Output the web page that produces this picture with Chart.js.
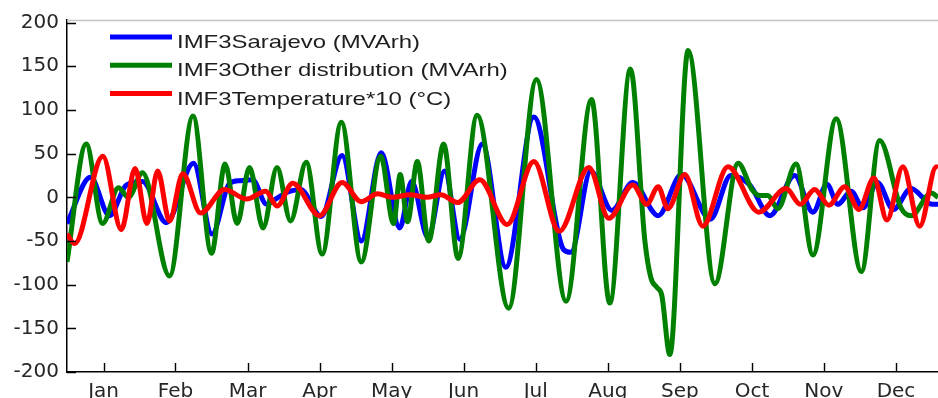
<!DOCTYPE html>
<html>
<head>
<meta charset="utf-8">
<script src="https://cdn.jsdelivr.net/npm/chart.js@4/dist/chart.umd.min.js"></script>
<style>
html,body{margin:0;padding:0;background:#fff;overflow:hidden}
#wrap{width:938px;height:398px;position:relative}
</style>
</head>
<body>
<div id="wrap"><canvas id="c"></canvas></div>
<script>
// ---- data ----
const monthLabels = ['Jan','Feb','Mar','Apr','May','Jun','Jul','Aug','Sep','Oct','Nov','Dec'];
const monthTicks = [15.4, 45.7, 76.1, 106.4, 136.8, 167.1, 197.5, 227.9, 258.2, 288.6, 318.9, 349.3];
const yTicks = [-200, -150, -100, -50, 0, 50, 100, 150, 200];
const seriesLabels = ['IMF3Sarajevo (MVArh)', 'IMF3Other distribution (MVArh)', 'IMF3Temperature*10 (°C)'];

const sarajevoDays = [0, 9.9, 17.9, 25.0, 31.8, 41.9, 53.3, 61.1, 68.5, 72.7, 78.2, 84.1, 87.9, 92.1, 98.4,
  107.1, 115.9, 124.0, 132.4, 140.2, 145.2, 152.1, 159.1, 165.5, 175.0, 184.9, 196.7, 209.3, 212.3,
  220.7, 229.6, 238.4, 249.1, 258.9, 271.1, 279.7, 287.7, 296.2, 306.6, 314.3, 320.2, 324.8, 330.4,
  335.4, 341.5, 348.2, 355.6, 364.5, 367];
const sarajevoValues = [-30, 23, -21, 14, 18, -29, 39, -42, 16, 19, 20, -8, -2, 5, 9,
  -22, 48, -50, 51, -35, 18, -46, 30, -48, 61, -80, 92, -60, -63,
  30, -15, 17, -21, 26, -25, 25, 14, -21, 25, -17, 15, -8, 7,
  -12, 17, -14, 10, -8, -8];

const otherDays = [0, 8.1, 15.0, 21.7, 25.9, 31.8, 43.2, 53.1, 60.9, 66.6, 71.7, 76.9, 82.6, 88.5, 94.2,
  100.8, 107.5, 115.6, 124.0, 132.2, 137.6, 140.4, 143.5, 147.6, 152.4, 158.7, 164.8, 172.8, 186.1,
  197.8, 210.3, 221.0, 228.7, 237.4, 243.5, 246.0, 248.5, 250.6, 254.0, 261.7, 273.0, 282.8, 288.6,
  291.9, 295.3, 299.5, 307.2, 314.3, 324.1, 334.7, 342.4, 351.4, 355.7, 364.2, 367];
const otherValues = [-74, 61, -30, 11, 0, 28, -90, 93, -64, 38, -30, 34, -35, 34, -27,
  40, -65, 86, -74, 47, -30, 26, -28, 41, -50, 61, -70, 94, -127,
  135, -119, 112, -121, 147, -50, -92, -103, -112, -180, 168, -99, 39, 9,
  2, 2, -13, 38, -66, 90, -85, 65, -12, -21, 5, 0];

const temperatureDays = [0, 3.2, 15.1, 22.9, 28.7, 33.7, 38.2, 43.2, 48.8, 56.3, 66.4, 75.7, 83.7, 88.5, 95.1,
  106.4, 115.9, 124.0, 130.9, 137.2, 144.4, 151.6, 157.5, 164.6, 173.9, 185.5, 196.7, 207.4, 219.9,
  228.3, 238.4, 244.3, 249.1, 253.2, 260.3, 267.9, 278.5, 291.5, 303.0, 309.0, 315.0, 321.0, 327.7,
  333.7, 340.0, 345.5, 352.2, 359.3, 366.3, 367];
const temperatureValues = [-42, -53, 47, -37, 33, -30, 30, -27, 27, -18, 9, -2, 7, -10, 16,
  -21, 17, -5, 4, 0, 3, 0, 3, -6, 20, -31, 41, -39, 34,
  -24, 14, -8, 12, -13, 26, -33, 35, -17, 10, -8, 9, -9, 12,
  -14, 22, -26, 35, -33, 35, 34];

// ---- build ----
const toPts = (xs, ys) => xs.map((d, i) => ({x: d, y: ys[i]}));
const tickFont = {family: 'DejaVu Sans', size: 20};

const frame = {
  id: 'frame',
  afterDraw(chart) {
    const {ctx, chartArea: a, scales: {x, y}} = chart;
    ctx.save();
    // top box edge (light grey)
    ctx.strokeStyle = '#c4c4c4';
    ctx.lineWidth = 1.5;
    ctx.beginPath();
    ctx.moveTo(a.left, a.top + 0.5);
    ctx.lineTo(a.right, a.top + 0.5);
    ctx.stroke();
    // inward tick marks
    ctx.strokeStyle = '#000';
    ctx.lineWidth = 1.4;
    ctx.beginPath();
    y.ticks.forEach(t => {
      const py = Math.round(y.getPixelForValue(t.value)) + 0.5;
      ctx.moveTo(a.left, py); ctx.lineTo(a.left + 9, py);
    });
    x.ticks.forEach(t => {
      const px = Math.round(x.getPixelForValue(t.value)) + 0.5;
      ctx.moveTo(px, a.bottom); ctx.lineTo(px, a.bottom - 9);
    });
    ctx.stroke();
    // legend
    chart.data.datasets.forEach((ds, i) => {
      const ly = a.top + 17 + i * 28.3;
      ctx.strokeStyle = ds.borderColor;
      ctx.lineWidth = 5;
      ctx.lineCap = 'butt';
      ctx.beginPath();
      ctx.moveTo(a.left + 43, ly);
      ctx.lineTo(a.left + 105, ly);
      ctx.stroke();
      ctx.save();
      ctx.translate(a.left + 110, ly + 11);
      ctx.scale(1.26, 1);
      ctx.fillStyle = '#1e1e1e';
      ctx.font = '19px "Liberation Sans", Arial, sans-serif';
      ctx.textBaseline = 'alphabetic';
      ctx.textAlign = 'left';
      ctx.fillText(ds.label, 0, 0);
      ctx.restore();
    });
    ctx.restore();
  }
};

const mk = (label, color, xs, ys, order) => ({
  label, data: toPts(xs, ys), borderColor: color, backgroundColor: color,
  borderWidth: 5, pointRadius: 0, fill: false,
  cubicInterpolationMode: 'monotone', borderJoinStyle: 'round', order
});

new Chart(document.getElementById('c'), {
  type: 'line',
  data: {
    datasets: [
      mk(seriesLabels[0], '#0000ff', sarajevoDays, sarajevoValues, 3),
      mk(seriesLabels[1], '#008000', otherDays, otherValues, 2),
      mk(seriesLabels[2], '#ff0000', temperatureDays, temperatureValues, 1)
    ]
  },
  options: {
    responsive: true,
    maintainAspectRatio: false,
    devicePixelRatio: 1,
    animation: false,
    layout: {padding: {top: 19, right: 0, bottom: 0, left: 0}},
    plugins: {legend: {display: false}, tooltip: {enabled: false}},
    scales: {
      x: {
        type: 'linear', min: 0, max: 367,
        afterBuildTicks: s => { s.ticks = monthTicks.map(v => ({value: v})); },
        afterFit: s => { s.height = 26; },
        grid: {display: false, drawTicks: false},
        border: {display: true, color: '#000', width: 1.5},
        ticks: {
          autoSkip: false, maxRotation: 0, padding: 8,
          font: tickFont, color: '#262626',
          callback: (v, i) => monthLabels[i]
        }
      },
      y: {
        min: -200, max: 203,
        afterBuildTicks: s => { s.ticks = yTicks.map(v => ({value: v})); },
        afterFit: s => { s.width = 67; },
        grid: {display: false, drawTicks: false},
        border: {display: true, color: '#000', width: 1.5},
        ticks: {padding: 8, font: tickFont, color: '#262626', callback: v => String(v)}
      }
    }
  },
  plugins: [frame]
});
</script>
</body>
</html>
